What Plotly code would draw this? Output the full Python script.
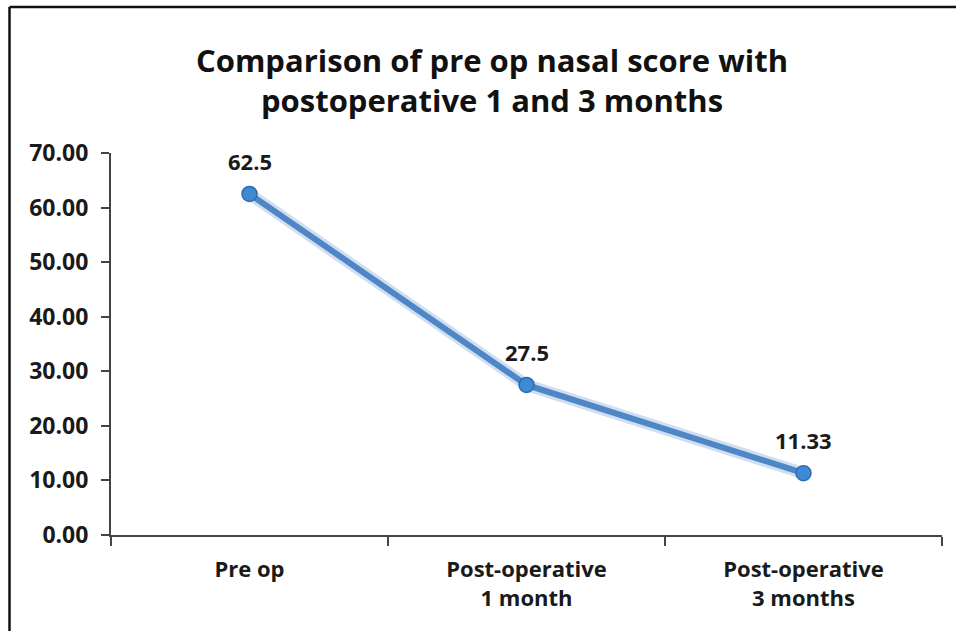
import plotly.graph_objects as go

categories = ["Pre op", "Post-operative<br>1 month", "Post-operative<br>3 months"]
values = [62.5, 27.5, 11.33]
value_labels = ["62.5", "27.5", "11.33"]
y_ticks = [0, 10, 20, 30, 40, 50, 60, 70]

FONT = "'Open Sans', Lato, sans-serif"
W, H = 956, 631
L, R, T, B = 111, 14, 153, 96

fig = go.Figure()
fig.add_trace(go.Scatter(
    x=categories, y=values, mode="lines",
    line=dict(color="rgba(120,160,215,0.35)", width=12),
    showlegend=False, hoverinfo="skip",
))
fig.add_trace(go.Scatter(
    x=categories, y=values, mode="lines+markers",
    line=dict(color="#4F86C6", width=6),
    marker=dict(size=15, color="#3E8AD4", line=dict(color="#2E6DAE", width=1.5)),
    showlegend=False, hoverinfo="skip",
))
for c, v, t in zip(categories, values, value_labels):
    fig.add_annotation(x=c, y=v, text=t, showarrow=False, yshift=33,
                       font=dict(family=FONT, size=22, color="#1a1a1a", weight="bold"))

pw = W - L - R
ph = H - T - B
xb = (9.5 - L) / pw
yb = 1 + (T - 7) / ph
fig.add_shape(type="line", xref="paper", yref="paper",
              x0=xb, x1=xb, y0=-(H - T) / ph, y1=yb,
              line=dict(color="#111111", width=2.5))
fig.add_shape(type="line", xref="paper", yref="paper",
              x0=xb, x1=(W - L) / pw, y0=yb, y1=yb,
              line=dict(color="#111111", width=2.5))

fig.update_layout(
    width=W, height=H,
    margin=dict(l=L, r=R, t=T, b=B),
    paper_bgcolor="white", plot_bgcolor="white",
    title=dict(text="Comparison of pre op nasal score with<br>postoperative 1 and 3 months",
               x=492 / W, xanchor="center", y=1 - 72 / H, yanchor="middle",
               font=dict(family=FONT, size=31, color="#111111", weight="bold")),
    xaxis=dict(type="category", range=[-0.5, 2.5], showline=True, linecolor="#444444",
               linewidth=2, ticks="outside", tickson="boundaries", ticklen=9,
               tickcolor="#444444", tickwidth=2, showgrid=False, ticklabelstandoff=14,
               tickfont=dict(family=FONT, size=22, color="#1a1a1a", weight="bold")),
    yaxis=dict(range=[0, 70], tickvals=y_ticks, tickformat=".2f", showline=True,
               linecolor="#444444", linewidth=2, ticks="outside", ticklen=8,
               tickcolor="#444444", tickwidth=2, showgrid=False, zeroline=False,
               ticklabelstandoff=8,
               tickfont=dict(family=FONT, size=23, color="#1a1a1a", weight="bold")),
)
fig.write_html("out.html", config={"displayModeBar": False},
               post_script="document.body.style.margin='0';")
